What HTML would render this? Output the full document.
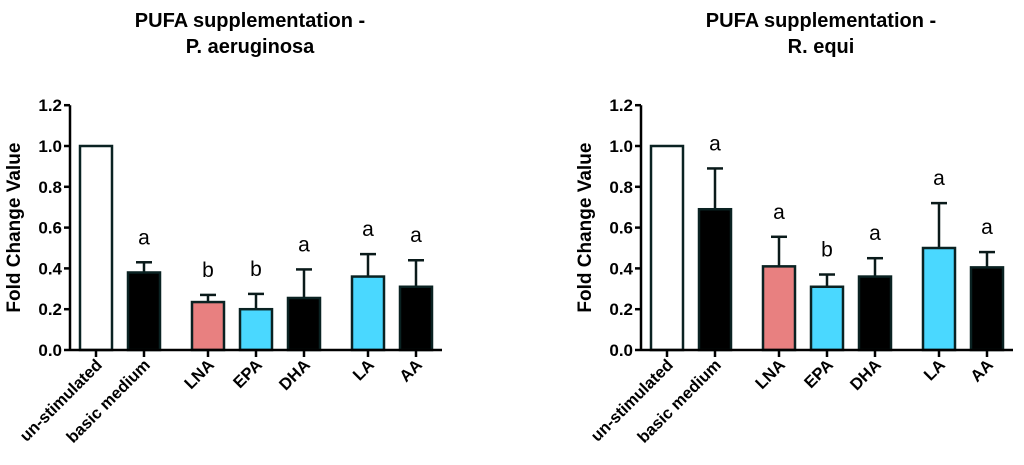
<!DOCTYPE html>
<html><head><meta charset="utf-8"><style>
body{margin:0;background:#fff;width:1024px;height:465px;overflow:hidden}
svg{display:block;font-family:"Liberation Sans",Arial,sans-serif}
</style></head><body>
<svg id="c" width="1024" height="465" viewBox="0 0 1024 465"></svg>
<script>
const categories=["un-stimulated","basic medium","LNA","EPA","DHA","LA","AA"];
const colors=["#ffffff","#000000","#e88080","#4ad8ff","#000000","#4ad8ff","#000000"];
const paValues=[1.0,0.38,0.235,0.2,0.255,0.36,0.31];
const paErrTop=[null,0.43,0.27,0.275,0.395,0.47,0.44];
const paLetters=["","a","b","b","a","a","a"];
const reValues=[1.0,0.69,0.41,0.31,0.36,0.5,0.405];
const reErrTop=[null,0.89,0.555,0.37,0.45,0.72,0.48];
const reLetters=["","a","a","b","a","a","a"];
const yTicks=[0,0.2,0.4,0.6,0.8,1.0,1.2];
const yTickLabels=["0.0","0.2","0.4","0.6","0.8","1.0","1.2"];
const xOffsets=[26,74,138,186,234,298,346];
const NS="http://www.w3.org/2000/svg";
const svg=document.getElementById('c');
function mk(tag,attrs,parent,name){const e=document.createElementNS(NS,tag);for(const k in attrs)e.setAttribute(k,attrs[k]);


(parent||svg).appendChild(e);return e;}
function chart(ax,title1,title2,values,errs,letters,id){
 const g=mk('g',{},svg,id);
 const y0=350,ppu=204;
 const y=v=>y0-v*ppu;
 const t=mk('text',{x:ax+180,y:27,'text-anchor':'middle','font-size':20,'font-weight':'bold'},g,'chart-title');t.textContent=title1;
 const t2=mk('text',{x:ax+180,y:53,'text-anchor':'middle','font-size':20,'font-weight':'bold'},g,'chart-title-line2');t2.textContent=title2;
 const yt=mk('text',{x:0,y:0,'text-anchor':'middle','font-size':19,'font-weight':'bold',transform:`translate(${ax-50},${y(0.6)}) rotate(-90)`},g,'y-axis-title');yt.textContent="Fold Change Value";
 values.forEach((v,i)=>{
  const cx=ax+xOffsets[i],w=32;
  if(errs[i]!=null){
   mk('line',{x1:cx,x2:cx,y1:y(v),y2:y(errs[i]),stroke:'#0a1a1a','stroke-width':2.5},g,'error-bar');
   mk('line',{x1:cx-8,x2:cx+8,y1:y(errs[i]),y2:y(errs[i]),stroke:'#0a1a1a','stroke-width':2.5},g,'error-cap');
  }
  mk('rect',{x:cx-w/2,y:y(v),width:w,height:v*ppu,fill:colors[i],stroke:'#0a2222','stroke-width':2.5},g,'bar-'+categories[i].replace(/\s+/g,'-').toLowerCase());
  if(letters[i]){const l=mk('text',{x:cx,y:y(errs[i])-18,'text-anchor':'middle','font-size':21},g,'significance-letter');l.textContent=letters[i];}
  mk('line',{x1:cx,x2:cx,y1:y0,y2:y0+7,stroke:'#000','stroke-width':2.5},g,'x-tick');
  const xl=mk('text',{x:0,y:0,'text-anchor':'end','font-size':16.5,'font-weight':'bold',transform:`translate(${cx+7},${y0+16}) rotate(-45)`},g,'x-label');xl.textContent=categories[i];
 });
 mk('line',{x1:ax,x2:ax,y1:y(1.2),y2:y0+1,stroke:'#000','stroke-width':2.5},g,'y-axis');
 mk('line',{x1:ax,x2:ax+372,y1:y0,y2:y0,stroke:'#000','stroke-width':2.5},g,'x-axis');
 yTicks.forEach((v,i)=>{
  mk('line',{x1:ax-6,x2:ax,y1:y(v),y2:y(v),stroke:'#000','stroke-width':2.5},g,'y-tick');
  const tl=mk('text',{x:ax-8,y:y(v)+6,'text-anchor':'end','font-size':17,'font-weight':'bold'},g,'y-tick-label');tl.textContent=yTickLabels[i];
 });
}
chart(70,"PUFA supplementation -","P. aeruginosa",paValues,paErrTop,paLetters,'chart-p-aeruginosa');
chart(641,"PUFA supplementation -","R. equi",reValues,reErrTop,reLetters,'chart-r-equi');
</script>
</body></html>
